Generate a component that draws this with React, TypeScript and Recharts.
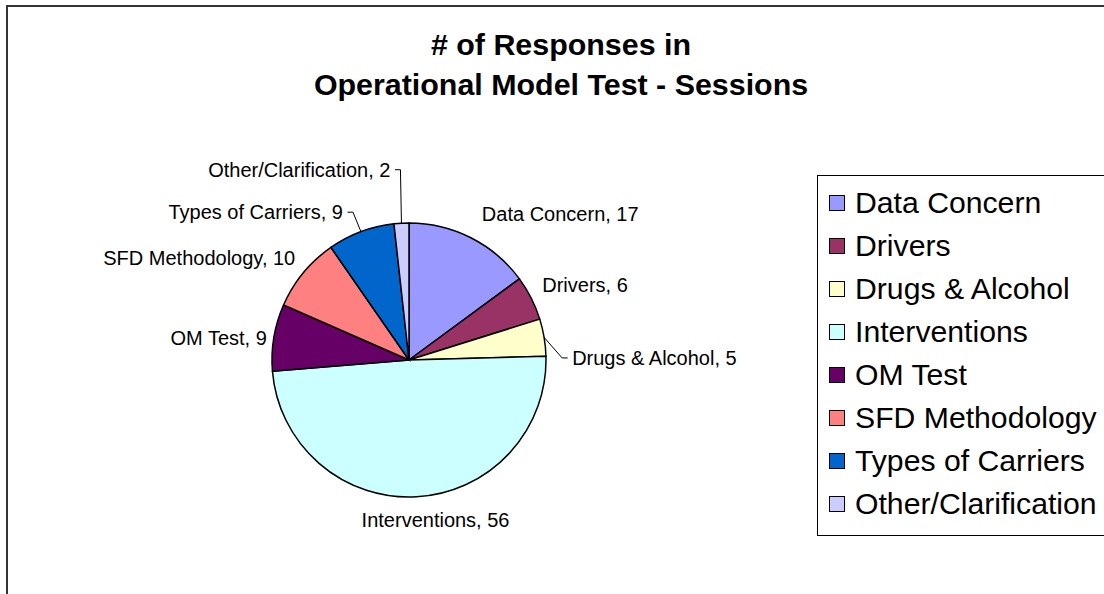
import React from "react";
import { PieChart, Pie, Cell, Legend } from "recharts";

const categories = [
  "Data Concern",
  "Drivers",
  "Drugs & Alcohol",
  "Interventions",
  "OM Test",
  "SFD Methodology",
  "Types of Carriers",
  "Other/Clarification",
];
const responses = [17, 6, 5, 56, 9, 10, 9, 2];
const titleLines = ["# of Responses in", "Operational Model Test - Sessions"];

const COLORS = ["#9999FF", "#993366", "#FFFFCC", "#CCFFFF", "#660066", "#FF8080", "#0066CC", "#CCCCFF"];

// label placement offsets relative to slice edge midpoint (style only)
const LABEL_STYLE = [
  { dx: 11, dy: -24, anchor: "start", leader: false },
  { dx: 11, dy: -13, anchor: "start", leader: false },
  { dx: 28, dy: 20.5, anchor: "start", leader: true },
  { dx: 19, dy: 23, anchor: "middle", leader: false },
  { dx: -7, dy: 0.5, anchor: "end", leader: false },
  { dx: -8, dy: -15, anchor: "end", leader: false },
  { dx: -18, dy: -19.5, anchor: "end", leader: true },
  { dx: -11, dy: -53.5, anchor: "end", leader: true },
];

const data = categories.map((name, i) => ({ name, value: responses[i] }));
const FONT = "'Liberation Sans', Arial, Helvetica, sans-serif";
const RAD = Math.PI / 180;

const renderLabel = (props: any) => {
  const { cx, cy, midAngle, outerRadius, index, name, value } = props;
  const st = LABEL_STYLE[index];
  const ex = cx + outerRadius * Math.cos(-midAngle * RAD);
  const ey = cy + outerRadius * Math.sin(-midAngle * RAD);
  const tx = ex + st.dx;
  const ty = ey + st.dy;
  let leader = null;
  if (st.leader) {
    const sgn = st.anchor === "start" ? -1 : 1;
    leader = (
      <polyline
        points={`${ex},${ey} ${tx + sgn * 10},${ty} ${tx + sgn * 4.5},${ty}`}
        fill="none"
        stroke="#000"
        strokeWidth={1}
      />
    );
  }
  return (
    <g key={`lbl-${index}`}>
      {leader}
      <text
        x={tx}
        y={ty}
        textAnchor={st.anchor}
        dominantBaseline="central"
        fontFamily={FONT}
        fontSize={20}
        fill="#000"
      >
        {`${name}, ${value}`}
      </text>
    </g>
  );
};

const renderLegend = () => (
  <div
    style={{
      border: "1px solid #000",
      width: 320,
      height: 361,
      boxSizing: "border-box",
      paddingTop: 5,
      background: "#fff",
    }}
  >
    {categories.map((c, i) => (
      <div
        key={c}
        style={{ display: "flex", alignItems: "center", height: 43, paddingLeft: 11 }}
      >
        <div
          style={{
            width: 14,
            height: 14,
            background: COLORS[i],
            border: "1.5px solid #000",
            marginRight: 10,
          }}
        />
        <span style={{ fontFamily: FONT, fontSize: 30.2, color: "#000", whiteSpace: "nowrap" }}>{c}</span>
      </div>
    ))}
  </div>
);

export default function App() {
  return (
    <div
      style={{
        position: "absolute",
        left: 0,
        top: 0,
        width: 1104,
        height: 594,
        overflow: "hidden",
        background: "#fff",
      }}
    >
      <div
        style={{
          position: "absolute",
          left: 6,
          top: 5,
          width: 1200,
          height: 700,
          border: "2px solid #333",
        }}
      />
      <div style={{ position: "absolute", left: 0, top: 0 }}>
        <PieChart width={1104} height={594} margin={{ top: 0, right: 0, bottom: 0, left: 0 }}>
          <text x={561} y={55} textAnchor="middle" fontFamily={FONT} fontWeight="bold" fontSize={30.4} fill="#000">
            {titleLines[0]}
          </text>
          <text x={561} y={95} textAnchor="middle" fontFamily={FONT} fontWeight="bold" fontSize={30.4} fill="#000">
            {titleLines[1]}
          </text>
          <Pie
            data={data}
            dataKey="value"
            nameKey="name"
            cx={409}
            cy={360}
            outerRadius={137}
            startAngle={90}
            endAngle={-270}
            stroke="#000"
            strokeWidth={1.5}
            label={renderLabel}
            labelLine={false}
            isAnimationActive={false}
          >
            {data.map((d, i) => (
              <Cell key={d.name} fill={COLORS[i]} />
            ))}
          </Pie>
          <Legend
            content={renderLegend}
            wrapperStyle={{ position: "absolute", left: 817, top: 175, width: 320, height: 361 }}
          />
        </PieChart>
      </div>
    </div>
  );
}
